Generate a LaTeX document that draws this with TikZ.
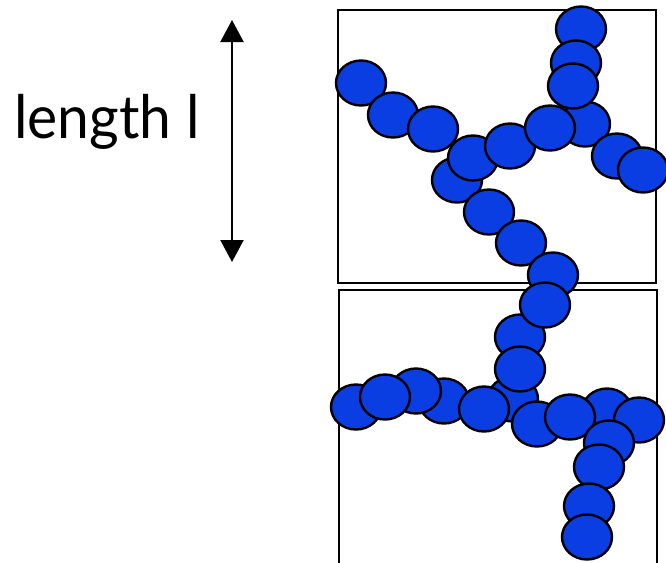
\documentclass[tikz,border=0pt]{standalone}
\usepackage{fontspec}
\setmainfont{Lato}
\usetikzlibrary{shapes.geometric,arrows.meta}
\definecolor{bead}{RGB}{10,62,226}
\tikzset{
  bd/.style={ellipse,draw=black,fill=bead,line width=2.4pt,minimum width=50pt,minimum height=45pt,inner sep=0pt},
  frame/.style={draw=black,line width=2.2pt},
  dimarrow/.style={line width=2.2pt,{Triangle[width=23pt,length=22pt]}-{Triangle[width=23pt,length=22pt]}}
}
\begin{document}
\begin{tikzpicture}[x=1pt,y=-1pt]
\useasboundingbox (0,0) rectangle (666,562);
\clip (0,0) rectangle (666,562);
% text and arrow
\node[anchor=base west,inner sep=0pt,font=\fontsize{60}{70}\selectfont] (lab) at (14,138) {\scalebox{0.95}[1]{length l}};
\coordinate (at) at (232,20);
\coordinate (ab) at (232,262);
\draw[dimarrow] (at) -- (ab);
% frames
\draw[frame] (338,10) rectangle (656,283);
\draw[frame] (339,580) -- (339,290) -- (657,290) -- (657,580);
% top chain
\node[bd] (b1) at (361,83) {};
\node[bd] (b2) at (393,115) {};
\node[bd] (b3) at (433,129) {};
\node[bd] (b4) at (457,180) {};
\node[bd] (b5) at (473,158) {};
\node[bd] (b6) at (510,146) {};
\node[bd] (b8) at (585,124) {};
\node[bd] (b7) at (550,128) {};
\node[bd] (b9) at (581,29) {};
\node[bd] (b10) at (576,63) {};
\node[bd] (b11) at (573,86) {};
\node[bd] (b12) at (617,156) {};
\node[bd] (b13) at (643,170) {};
\node[bd] (b14) at (489,212) {};
\node[bd] (b15) at (521,243) {};
\node[bd] (b16) at (553,275) {};
% bottom chain
\node[bd] (e) at (513,399) {};
\node[bd] (c) at (520,337) {};
\node[bd] (d) at (520,369) {};
\node[bd] (b) at (545,305) {};
\node[bd] (f) at (356,407) {};
\node[bd] (i) at (444,401) {};
\node[bd] (h) at (416,391) {};
\node[bd] (g) at (385,397) {};
\node[bd] (j) at (484,409) {};
\node[bd] (k) at (537,424) {};
\node[bd] (m) at (607,411) {};
\node[bd] (l) at (570,417) {};
\node[bd] (n) at (639,420) {};
\node[bd] (o) at (609,443) {};
\node[bd] (p) at (599,467) {};
\node[bd] (q) at (589,506) {};
\node[bd] (r) at (587,537) {};
\end{tikzpicture}
\end{document}
